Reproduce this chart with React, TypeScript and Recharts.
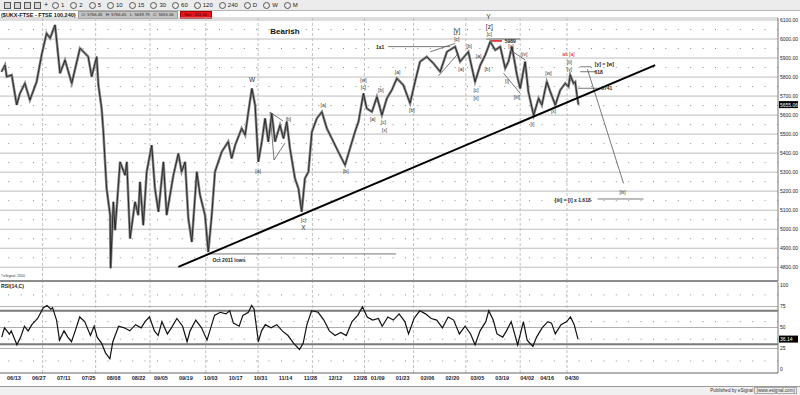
import React from 'react';
import { ComposedChart, Line, XAxis, YAxis, CartesianGrid, ReferenceLine, ReferenceDot } from 'recharts';

// trading-day index (0 = 06/06/2011) of each traced price point
const priceDay = [
  0, 1.4, 2.1, 4.1, 6.1, 7.4, 9.4, 11.4, 14.1, 16.1,
  18.1, 19.5, 21.5, 23.5, 25.5, 28.2, 31.5, 33.5, 34.8, 36.2,
  38.2, 38.9, 40.2, 40.9, 41.5, 42.2, 43.6, 43.8, 44.9, 45.6,
  47.6, 49.6, 50.3, 51.6, 53.6, 54.9, 55.6, 56.9, 58.3, 60.3,
  61.6, 63, 65, 66.3, 69, 71, 72.3, 73.7, 75, 76.4,
  78.4, 79.7, 81.7, 83, 84.4, 85.7, 88.4, 91, 92.4, 93.8,
  96.4, 97.8, 99.1, 100.5, 101.8, 103.1, 104.5, 105.8, 107.1, 108.5,
  109.8, 111.8, 113.2, 114.5, 115.8, 117.8, 119.2, 120.5, 121.8, 123.2,
  124.6, 126.6, 128.6, 130.6, 132.6, 135.2, 137.9, 139.9, 141.9, 143.3,
  145.3, 146.6, 148.7, 150.7, 152.7, 154.7, 156.7, 158.7, 161.3, 164,
  166, 168, 170.7, 173.4, 176.1, 178.8, 182.1, 184.1, 187.4, 190.1,
  192.2, 194.2, 196.2, 198.2, 200.2, 202.2, 203.5, 204.9, 206.9, 208.2,
  210.2, 211.5, 213.6, 215.6, 216.9, 218.9, 220.3, 222.3, 224.3, 226.3,
  227.6, 228.3, 229.6, 230.3, 231, 231.6,
];
const priceClose = [
  5828, 5863, 5802, 5811, 5653, 5714, 5767, 5679, 5775, 5916,
  6030, 6004, 6074, 5820, 5889, 5767, 5951, 5925, 5907, 5802,
  5907, 5758, 5635, 5512, 5372, 5214, 5074, 4795, 5144, 4995,
  5354, 5284, 5354, 4951, 5144, 5074, 5249, 5021, 5302, 5442,
  5214, 5091, 5354, 5074, 5284, 5398, 5302, 5354, 5056, 4933,
  5302, 5179, 5074, 4880, 5074, 5302, 5407, 5460, 5372, 5442,
  5530, 5495, 5617, 5740, 5653, 5354, 5460, 5583, 5460, 5609,
  5460, 5547, 5477, 5565, 5425, 5267, 5214, 5091, 5267, 5302,
  5512, 5583, 5617, 5530, 5477, 5407, 5337, 5425, 5512, 5565,
  5714, 5635, 5617, 5696, 5600, 5688, 5732, 5793, 5758, 5662,
  5775, 5881, 5907, 5872, 5828, 5933, 5960, 5881, 5933, 5775,
  5863, 5916, 5986, 5942, 5960, 5846, 5881, 5960, 5811, 5740,
  5881, 5723, 5600, 5688, 5653, 5775, 5723, 5653, 5732, 5767,
  5749, 5811, 5767, 5775, 5705, 5655,
];

const rsiDay = [
  0.1, 1.2, 3.2, 3.9, 6.2, 7.7, 9.2, 10.7, 12.2, 14.5,
  16.8, 18.3, 19.8, 20.5, 22.1, 23.3, 25.1, 26.6, 28.1, 29.6,
  31.4, 33.4, 35.7, 37.2, 38.4, 40.2, 41.7, 43.5, 44.7, 47,
  49.3, 51.5, 53.8, 56.1, 57.6, 59.4, 61.4, 62.9, 64.4, 66.6,
  68.2, 70.4, 72.7, 74.5, 75.7, 78, 80.3, 82.5, 84, 85.5,
  87.8, 90.1, 91.6, 93.1, 95.4, 96.9, 99.1, 100.4, 101.4, 103.1,
  104.4, 105.9, 108.2, 110.5, 112.7, 115, 117.3, 119.6, 121.1, 122.6,
  124.5, 127.1, 129.4, 131.6, 133.9, 136.2, 138.4, 140.7, 143, 144.9,
  146.8, 149, 151.3, 152.8, 155.1, 157.3, 159.6, 161.9, 163.4, 165.6,
  167.9, 170.2, 172.5, 174.7, 177, 179.3, 181.5, 183.8, 186.1, 188.3,
  190.1, 192.1, 194.4, 195.6, 197.4, 198.9, 201.2, 202.7, 204.6, 207.2,
  209.5, 211, 213.3, 214.8, 217, 219.3, 220.8, 222.3, 224.6, 226.9,
  228.4, 229.9, 231.4,
];
const rsiValue = [
  38.5, 49.6, 42, 46, 29.3, 38.5, 51.5, 46, 53.4, 60.8,
  73.7, 76.3, 71.9, 73.7, 58.9, 34.9, 46, 38.5, 33, 46,
  62.6, 57, 40.4, 51.5, 38.5, 31.1, 20, 12.6, 33, 51.5,
  49.6, 46, 53.4, 49.6, 57, 62.6, 46, 40.4, 57, 42.3,
  49.6, 60.8, 51.5, 33, 46, 58.9, 49.6, 34.9, 49.6, 64.5,
  68.2, 66.3, 70, 55.2, 51.5, 64.5, 68.2, 76.3, 71.9, 33,
  46, 53.4, 49.6, 53.4, 46, 40.4, 31.1, 23.7, 31.1, 53.4,
  70, 68.2, 58.9, 46, 40.4, 44.1, 40.4, 57, 64.5, 74.8,
  62.6, 58.9, 60.8, 51.5, 62.6, 58.9, 66.3, 57, 42.3, 60.8,
  70, 66.3, 60.8, 58.9, 49.6, 62.6, 58.9, 42.3, 51.5, 42.3,
  29.3, 46, 57, 70, 58.9, 42.3, 38.5, 46, 57, 29.3,
  57, 34.9, 27.4, 38.5, 49.6, 57, 55.2, 42.3, 53.4, 57,
  62.6, 53.4, 36.1,
];

const priceTicks = [4800, 4900, 5000, 5100, 5200, 5300, 5400, 5500, 5600, 5700, 5800, 5900, 6000, 6100];
const priceHalfLevels = [4850, 4950, 5050, 5150, 5250, 5350, 5450, 5550, 5650, 5750, 5850, 5950, 6050];
const rsiTicks = [0, 25, 50, 75, 100];
const rsiThinLines = [25, 50, 75];
const rsiBands = [30, 70];
const rsiDotLevels = [10, 36, 57, 89];
const dateTickDay = [5, 15, 25, 35, 45, 55, 64, 74, 84, 94, 104, 114, 124, 134, 144, 151, 161, 171, 181, 191, 201, 211, 219, 229];
const dateTickLabel = ['06/13', '06/27', '07/11', '07/25', '08/08', '08/22', '09/05', '09/19', '10/03', '10/17', '10/31', '11/14', '11/28', '12/12', '12/28', '01/09', '01/23', '02/06', '02/20', '03/05', '03/19', '04/02', '04/16', '04/30'];
const monthLineDay = [16.5, 37.8, 59.6, 82, 103, 124.8, 145.7, 165.4, 186.4, 208.2, 227];

const lastClose = 5655.06;
const lastRsi = 36.14;

// wave annotations: [text, day, price]
const waveLabels: Array<[string, number, number]> = [
  ['[a]', 103, 5305], ['[b]', 115.2, 5578], ['[c]', 121.2, 5048],
  ['[a]', 129.2, 5653], ['[b]', 138.2, 5306], ['[w]', 145.3, 5781], ['[c]', 145.3, 5749],
  ['[a]', 149, 5578], ['[b]', 152.3, 5730], ['[c]', 153.3, 5565], ['[x]', 153.7, 5522],
  ['[a]', 159, 5825], ['[b]', 164.7, 5627], ['[c]', 182.8, 6000],
  ['[a]', 184.5, 5842], ['[b]', 187.7, 5963], ['[a]', 191.5, 5907], ['[c]', 190.5, 5730],
  ['[x]', 190.5, 5688], ['[b]', 195, 5842], ['[c]', 195.8, 6025], ['[c]', 204.5, 5960],
  ['[iv]', 209.8, 5920], ['[i]', 202.9, 5776], ['[iii]', 206.9, 5694], ['[i]', 213.1, 5552],
  ['[w]', 219.6, 5818], ['[x]', 221.6, 5618], ['[ii]', 228, 5876], ['[v]', 228, 5841],
  ['[iii]', 249.3, 5197],
];
const degreeLabels: Array<[string, number, number]> = [
  ['W', 100.6, 5784], ['X', 121.2, 5010], ['Y', 195.5, 6117], ['[y]', 182.8, 6042], ['[z]', 195.8, 6065],
];
const noteLabels: Array<[string, number, number]> = [
  ['1x1', 152, 5958], ['5989', 204.2, 5987], ['[y] = [w]', 242, 5866], ['618', 239.7, 5827],
  ['5741', 243, 5741], ['[iii] = [i] x 1.618', 229.3, 5150], ['Oct 2011 lows', 91.3, 4836],
];
const altLabels: Array<[string, number, number]> = [['alt [a]', 227.6, 5921]];
const titleLabels: Array<[string, number, number]> = [['Bearish', 113.8, 6042]];

// drawn lines: [day1, price1, day2, price2]
const trendLines: Array<[number, number, number, number]> = [[71, 4802, 262.4, 5863]];
const thinLines: Array<[number, number, number, number]> = [
  [83, 4870, 158.4, 4870],
  [155.2, 5960, 180.1, 5960],
  [172.1, 5933, 182.1, 5977],
  [175.4, 5806, 183.4, 5925],
  [107.8, 5616, 113, 5569],
  [107.8, 5616, 109.4, 5364],
  [109.4, 5364, 113.8, 5453],
  [204.2, 5942, 210.2, 5890],
  [201.5, 5820, 208.2, 5715],
  [194.6, 6000, 208.2, 6000],
  [232.3, 5854, 236.7, 5854],
  [232.3, 5828, 238.3, 5828],
  [231.5, 5741, 240.3, 5741],
  [235.2, 5841, 249.7, 5241],
  [239.3, 5159, 257.7, 5159],
];
const redLines: Array<[number, number, number, number]> = [[196.2, 5990, 200.9, 5990]];

const toolbarItems = ['1', '2', '5', '10', '15', '30', '60', '120', '240', 'D', 'W', 'M'];

const X_DOMAIN: [number, number] = [-0.6, 311.7];
const PRICE_DOMAIN: [number, number] = [4727.7, 6110.5];
const RSI_DOMAIN: [number, number] = [-4.4, 104.4];
const FONT = '"Liberation Sans", Arial, sans-serif';

const priceData = priceDay.map((d, k) => ({ i: d, p: priceClose[k] }));
const rsiData = rsiDay.map((d, k) => ({ i: d, r: rsiValue[k] }));
const dateLabelOf = (v: number) => {
  const k = dateTickDay.indexOf(v);
  return k >= 0 ? dateTickLabel[k] : '';
};

const ValueTag = ({ viewBox, text }: any) => {
  if (!viewBox) return null;
  const x = viewBox.x + 1;
  const y = viewBox.y;
  return (
    <g>
      <rect x={x} y={y - 3.5} width={19} height={7} fill="#000" />
      <text x={x + 1} y={y + 2} fill="#fff" fontSize={5} fontFamily={FONT}>{text}</text>
    </g>
  );
};

const labelDots = (list: Array<[string, number, number]>, style: any, prefix: string) =>
  list.map(([t, d, p], k) => (
    <ReferenceDot
      key={prefix + k}
      x={d}
      y={p}
      r={0}
      ifOverflow="visible"
      stroke="none"
      fill="none"
      label={{ value: t, position: 'center', fontFamily: FONT, ...style }}
    />
  ));

const segs = (list: Array<[number, number, number, number]>, stroke: string, width: number, prefix: string) =>
  list.map(([a, b, c, d], k) => (
    <ReferenceLine
      key={prefix + k}
      segment={[{ x: a, y: b }, { x: c, y: d }]}
      stroke={stroke}
      strokeWidth={width}
      ifOverflow="visible"
    />
  ));

export default function App() {
  return (
    <div style={{ position: 'absolute', left: 0, top: 0, width: 800, height: 395, background: '#fff', overflow: 'hidden', fontFamily: FONT }}>
      {/* toolbar */}
      <div style={{ position: 'absolute', left: 0, top: 0, width: 800, height: 10, background: '#ececec', borderBottom: '1px solid #b4b4b4' }}>
        <div style={{ position: 'absolute', left: 4, top: 2, display: 'flex', gap: 3 }}>
          {[0, 1, 2, 3].map((k) => (
            <div key={k} style={{ width: 5, height: 5, border: '1px solid #555', background: '#d8d8d8' }} />
          ))}
          <div style={{ width: 5, height: 5, color: '#222', fontSize: 7, lineHeight: '6px' }}>+</div>
        </div>
        <div style={{ position: 'absolute', left: 52, top: 1, display: 'flex', gap: 6, alignItems: 'center' }}>
          {toolbarItems.map((t) => (
            <div key={t} style={{ display: 'flex', alignItems: 'center', gap: 2 }}>
              <div style={{ width: 5, height: 5, borderRadius: '50%', border: '1px solid #555' }} />
              <span style={{ fontSize: 6, color: '#222', lineHeight: '8px' }}>{t}</span>
            </div>
          ))}
        </div>
      </div>
      {/* header */}
      <div style={{ position: 'absolute', left: 1, top: 11, height: 8, display: 'flex', alignItems: 'center', gap: 2 }}>
        <span style={{ fontSize: 5.5, fontWeight: 'bold', color: '#111', whiteSpace: 'nowrap' }}>($UKX-FTSE - FTSE 100,240)</span>
        <span style={{ fontSize: 4.2, background: '#c4c4c4', color: '#222', padding: '0 3px', whiteSpace: 'nowrap', lineHeight: '6px', border: '1px solid #999' }}>
          O: 5766.45&nbsp;&nbsp;&nbsp;H: 5766.45&nbsp;&nbsp;&nbsp;L: 5639.79&nbsp;&nbsp;&nbsp;C: 5655.06
        </span>
        <span style={{ fontSize: 4.2, background: '#e8141c', color: '#300', padding: '0 4px', whiteSpace: 'nowrap', lineHeight: '6px', border: '1px solid #a00' }}>
          Net: -111.40
        </span>
      </div>

      {/* price panel */}
      <div style={{ position: 'absolute', left: 0, top: 0 }}>
        <ComposedChart width={800} height={282} data={priceData} margin={{ top: 18, right: 0, bottom: 1, left: 0 }} style={{ fontFamily: FONT }}>
          <CartesianGrid vertical={false} stroke="#bdbdbd" />
          <XAxis type="number" dataKey="i" domain={X_DOMAIN} allowDataOverflow hide />
          <YAxis
            orientation="right"
            width={22}
            domain={PRICE_DOMAIN}
            allowDataOverflow
            ticks={priceTicks}
            tickFormatter={(v: number) => v.toFixed(2)}
            tick={{ fontSize: 5, fill: '#222', fontFamily: FONT }}
            tickLine={false}
            tickSize={0}
            tickMargin={2}
            axisLine={{ stroke: '#777' }}
            interval={0}
          />
          {priceHalfLevels.map((v) => (
            <ReferenceLine key={'h' + v} y={v} stroke="#8a8a8a" strokeDasharray="1 11.4" />
          ))}
          {monthLineDay.map((d) => (
            <ReferenceLine key={'m' + d} x={d} stroke="#c0c0c0" strokeDasharray="3 2" />
          ))}
          {segs(thinLines, '#555', 0.8, 't')}
          {segs(redLines, '#e01010', 1.5, 'r')}
          <Line type="linear" dataKey="p" stroke="#8a8a8a" strokeWidth={2.6} dot={false} isAnimationActive={false} />
          <Line type="linear" dataKey="p" stroke="#2a2a2a" strokeWidth={1} dot={false} isAnimationActive={false} />
          {segs(trendLines, '#000', 2, 'T')}
          {labelDots(waveLabels, { fontSize: 5, fill: '#333' }, 'w')}
          {labelDots(degreeLabels, { fontSize: 6.5, fill: '#333' }, 'g')}
          {labelDots(noteLabels, { fontSize: 5, fill: '#222', fontWeight: 'bold' }, 'n')}
          {labelDots(altLabels, { fontSize: 5, fill: '#e01010' }, 'a')}
          {labelDots(titleLabels, { fontSize: 8, fill: '#111', fontWeight: 'bold' }, 'B')}
          <ReferenceDot
            x={X_DOMAIN[1]}
            y={lastClose}
            r={0}
            ifOverflow="visible"
            stroke="none"
            fill="none"
            label={(p: any) => <ValueTag viewBox={p.viewBox} text={lastClose.toFixed(2)} />}
          />
        </ComposedChart>
      </div>

      <div style={{ position: 'absolute', left: 1, top: 274, fontSize: 3.5, color: '#333', whiteSpace: 'nowrap' }}>©eSignal, 2010</div>
      <div style={{ position: 'absolute', left: 0, top: 280, width: 778, height: 2, background: '#8c8c8c' }} />

      {/* RSI panel */}
      <div style={{ position: 'absolute', left: 0, top: 280 }}>
        <ComposedChart width={800} height={107} data={rsiData} margin={{ top: 2, right: 0, bottom: 0, left: 0 }} style={{ fontFamily: FONT }}>
          <XAxis
            type="number"
            dataKey="i"
            domain={X_DOMAIN}
            allowDataOverflow
            ticks={dateTickDay}
            interval={0}
            tickFormatter={dateLabelOf}
            height={14}
            tickLine={false}
            tickSize={0}
            tickMargin={3}
            axisLine={{ stroke: '#666' }}
            tick={{ fontSize: 5.5, fill: '#1c1c30', fontWeight: 'bold', fontFamily: FONT }}
          />
          <YAxis
            orientation="right"
            width={22}
            domain={RSI_DOMAIN}
            allowDataOverflow
            ticks={rsiTicks}
            interval={0}
            tick={{ fontSize: 5, fill: '#222', fontFamily: FONT }}
            tickLine={false}
            tickSize={0}
            tickMargin={2}
            axisLine={{ stroke: '#777' }}
          />
          {rsiDotLevels.map((v) => (
            <ReferenceLine key={'rd' + v} y={v} stroke="#8a8a8a" strokeDasharray="1 11.4" />
          ))}
          {monthLineDay.map((d) => (
            <ReferenceLine key={'rm' + d} x={d} stroke="#c0c0c0" strokeDasharray="3 2" />
          ))}
          {rsiThinLines.map((v) => (
            <ReferenceLine key={'rt' + v} y={v} stroke="#b0b0b0" />
          ))}
          {rsiBands.map((v) => (
            <ReferenceLine key={'rb' + v} y={v} stroke="#7a7a7a" strokeWidth={2} />
          ))}
          <Line type="linear" dataKey="r" stroke="#111" strokeWidth={1.2} dot={false} isAnimationActive={false} />
          <ReferenceDot
            x={X_DOMAIN[1]}
            y={lastRsi}
            r={0}
            ifOverflow="visible"
            stroke="none"
            fill="none"
            label={(p: any) => <ValueTag viewBox={p.viewBox} text={lastRsi.toFixed(2)} />}
          />
        </ComposedChart>
      </div>
      <div style={{ position: 'absolute', left: 1, top: 283, fontSize: 5.2, fontWeight: 'bold', color: '#222', whiteSpace: 'nowrap' }}>RSI(14,C)</div>

      {/* footer */}
      <div style={{ position: 'absolute', left: 0, top: 386, width: 800, height: 9, background: '#f0f0f0', borderTop: '1px solid #9a9a9a' }}>
        <div style={{ position: 'absolute', right: 3, top: 1, fontSize: 4.6, color: '#333', whiteSpace: 'nowrap' }}>
          Published by eSignal <span style={{ border: '1px solid #aaa', padding: '0 1px' }}>(www.esignal.com)</span>
        </div>
      </div>
    </div>
  );
}
